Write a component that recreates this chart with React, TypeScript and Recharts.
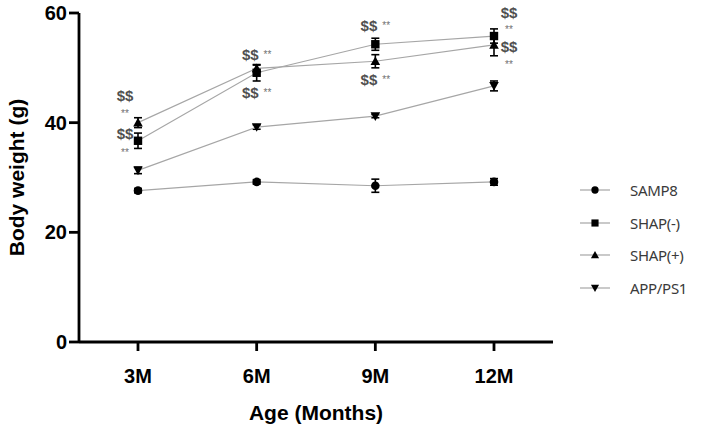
import React from 'react';
import {
  LineChart, Line, XAxis, YAxis, ErrorBar, Legend, ReferenceDot,
} from 'recharts';

const months = ['3M', '6M', '9M', '12M'];
const seriesNames = ['SAMP8', 'SHAP(-)', 'SHAP(+)', 'APP/PS1'];
const samp8 = [27.6, 29.2, 28.5, 29.2];
const samp8Err = [0.4, 0.4, 1.2, 0.6];
const shapNeg = [36.7, 49.1, 54.3, 55.8];
const shapNegErr = [1.4, 1.5, 1.1, 1.3];
const shapPos = [40.0, 49.9, 51.2, 54.2];
const shapPosErr = [0.9, 0.6, 1.2, 2.0];
const app = [31.3, 39.2, 41.2, 46.7];
const appErr = [0.6, 0.4, 0.3, 0.9];
const yTicks = [0, 20, 40, 60];

const annotations = [
  { month: '3M', value: 45.1, text: '$$', side: 'left' },
  { month: '3M', value: 41.8, text: '**', side: 'left' },
  { month: '3M', value: 38.1, text: '$$', side: 'left' },
  { month: '3M', value: 34.7, text: '**', side: 'left' },
  { month: '6M', value: 52.6, text: '$$ **', side: 'center' },
  { month: '6M', value: 45.6, text: '$$ **', side: 'center' },
  { month: '9M', value: 57.8, text: '$$ **', side: 'center' },
  { month: '9M', value: 48.0, text: '$$ **', side: 'center' },
  { month: '12M', value: 60.2, text: '$$', side: 'right' },
  { month: '12M', value: 57.1, text: '**', side: 'right' },
  { month: '12M', value: 54.0, text: '$$', side: 'right' },
  { month: '12M', value: 50.7, text: '**', side: 'right' },
];

const data = months.map((m, i) => ({
  month: m,
  samp8: samp8[i], samp8Err: samp8Err[i],
  shapNeg: shapNeg[i], shapNegErr: shapNegErr[i],
  shapPos: shapPos[i], shapPosErr: shapPosErr[i],
  app: app[i], appErr: appErr[i],
}));

const LINE = '#a6a6a6';
const BOLD = '"Liberation Sans", Arial, sans-serif';

function Marker({ cx, cy, kind, s = 1 }: any) {
  if (cx == null || cy == null) return null;
  if (kind === 'circle') return <circle cx={cx} cy={cy} r={4.3 * s} fill="#000" />;
  if (kind === 'square') {
    const h = 4.2 * s;
    return <rect x={cx - h} y={cy - h} width={2 * h} height={2 * h} fill="#000" />;
  }
  const h = 4.8 * s;
  if (kind === 'up') {
    return <path d={`M${cx},${cy - h} L${cx + h},${cy + h * 0.8} L${cx - h},${cy + h * 0.8} Z`} fill="#000" />;
  }
  return <path d={`M${cx},${cy + h} L${cx + h},${cy - h * 0.8} L${cx - h},${cy - h * 0.8} Z`} fill="#000" />;
}

const dotFor = (kind: string) => (p: any) => (
  <Marker key={`${kind}-${p.index}`} cx={p.cx} cy={p.cy} kind={kind} />
);

const kinds: Record<string, string> = {
  SAMP8: 'circle', 'SHAP(-)': 'square', 'SHAP(+)': 'up', 'APP/PS1': 'down',
};

function LegendContent() {
  return (
    <div>
      {seriesNames.map((name) => (
        <div key={name} style={{ display: 'flex', alignItems: 'center', height: 32.5 }}>
          <svg width={34} height={14} style={{ marginRight: 18 }}>
            <line x1={2} y1={7} x2={32} y2={7} stroke={LINE} strokeWidth={1.2} />
            <Marker cx={17} cy={7} kind={kinds[name]} s={0.85} />
          </svg>
          <span style={{ fontFamily: '"Noto Sans", sans-serif', fontSize: 15, color: '#3a3a3a', letterSpacing: -0.3 }}>{name}</span>
        </div>
      ))}
    </div>
  );
}

function AnnoShape({ cx, cy, text, side }: any) {
  const tokens = text.split(' ');
  let x = cx;
  if (side === 'left') { x = cx - 13; }
  if (side === 'right') { x = cx + 15; }
  return (
    <text x={x} y={cy} textAnchor="middle" dominantBaseline="central" fontFamily={BOLD}>
      {tokens.map((t: string, i: number) => (
        <tspan key={i} dx={i > 0 ? 5 : 0}
          fontSize={t === '$$' ? 15 : 10}
          fontWeight={t === '$$' ? 'bold' : 'normal'}
          fill={t === '$$' ? '#505050' : '#707070'}>{t}</tspan>
      ))}
    </text>
  );
}

export default function App() {
  return (
    <div style={{ position: 'absolute', left: 0, top: 0, background: '#fff' }}>
      <LineChart width={716} height={433} data={data}
        margin={{ top: 13, right: 163, bottom: 0, left: 0 }}>
        <XAxis dataKey="month" height={91} padding={{ left: 59, right: 59 }}
          axisLine={{ stroke: '#000', strokeWidth: 2.8 }}
          tickLine={{ stroke: '#000', strokeWidth: 2.8 }}
          tickSize={9} tickMargin={18}
          tick={{ fill: '#000', fontSize: 20, fontWeight: 'bold', fontFamily: BOLD }}
          label={{
            content: (p: any) => {
              const vb = p.viewBox;
              return <text x={vb.x + vb.width / 2} y={412} textAnchor="middle" dominantBaseline="central"
                fontFamily={BOLD} fontSize={21} fontWeight="bold" fill="#000">Age (Months)</text>;
            },
          }} />
        <YAxis domain={[0, 60]} ticks={yTicks} width={79} interval={0}
          axisLine={{ stroke: '#000', strokeWidth: 2.8 }}
          tickLine={{ stroke: '#000', strokeWidth: 2.8 }}
          tickSize={10} tickMargin={2}
          tick={{ fill: '#000', fontSize: 20, fontWeight: 'bold', fontFamily: BOLD }}
          label={{
            content: (p: any) => {
              const vb = p.viewBox;
              const cy = vb.y + vb.height / 2;
              return <text x={16} y={cy} transform={`rotate(-90, 16, ${cy})`} textAnchor="middle" dominantBaseline="central"
                fontFamily={BOLD} fontSize={21} fontWeight="bold" fill="#000">Body weight (g)</text>;
            },
          }} />
        <Legend layout="vertical" align="center" verticalAlign="middle"
          wrapperStyle={{ left: 578, top: 174, width: 140 }}
          content={<LegendContent />} />
        <Line name="SAMP8" dataKey="samp8" stroke={LINE} strokeWidth={1.2} dot={dotFor('circle')} isAnimationActive={false}>
          <ErrorBar dataKey="samp8Err" width={4} stroke="#000" strokeWidth={1.6} direction="y" />
        </Line>
        <Line name="SHAP(-)" dataKey="shapNeg" stroke={LINE} strokeWidth={1.2} dot={dotFor('square')} isAnimationActive={false}>
          <ErrorBar dataKey="shapNegErr" width={4} stroke="#000" strokeWidth={1.6} direction="y" />
        </Line>
        <Line name="SHAP(+)" dataKey="shapPos" stroke={LINE} strokeWidth={1.2} dot={dotFor('up')} isAnimationActive={false}>
          <ErrorBar dataKey="shapPosErr" width={4} stroke="#000" strokeWidth={1.6} direction="y" />
        </Line>
        <Line name="APP/PS1" dataKey="app" stroke={LINE} strokeWidth={1.2} dot={dotFor('down')} isAnimationActive={false}>
          <ErrorBar dataKey="appErr" width={4} stroke="#000" strokeWidth={1.6} direction="y" />
        </Line>
        {annotations.map((a, i) => (
          <ReferenceDot key={i} x={a.month} y={a.value} ifOverflow="visible" r={0}
            shape={(p: any) => <AnnoShape cx={p.cx} cy={p.cy} text={a.text} side={a.side} />} />
        ))}
      </LineChart>
    </div>
  );
}
